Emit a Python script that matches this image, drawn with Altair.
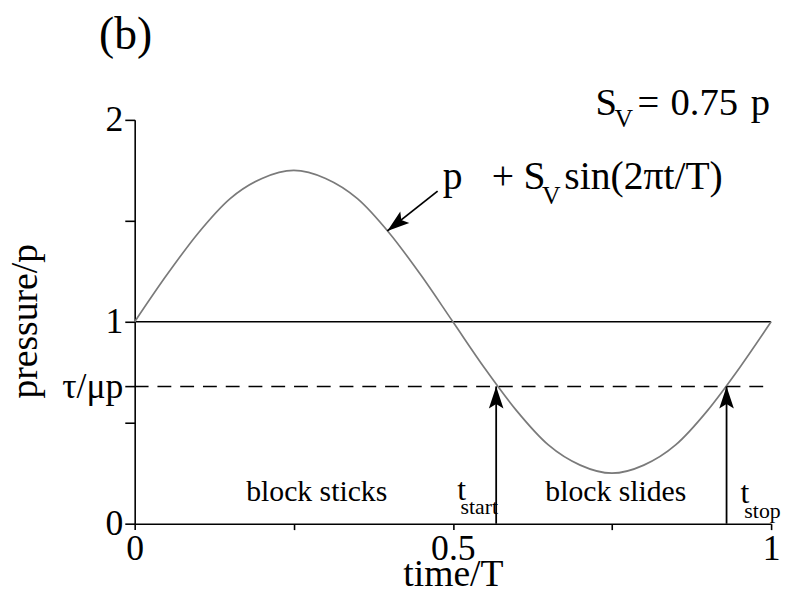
import altair as alt
import pandas as pd

# ---- data ----
t_vals = [0.0, 0.05, 0.1, 0.15, 0.2, 0.25, 0.3, 0.35, 0.4, 0.45, 0.5,
          0.55, 0.6, 0.65, 0.7, 0.75, 0.8, 0.85, 0.9, 0.95, 1.0]
p_vals = [1.0, 1.23, 1.44, 1.61, 1.71, 1.75, 1.71, 1.61, 1.44, 1.23, 1.0,
          0.77, 0.56, 0.39, 0.29, 0.25, 0.29, 0.39, 0.56, 0.77, 1.0]
x_ticks = [0, 0.25, 0.5, 0.75, 1]
y_ticks = [0, 0.5, 0.68, 1, 1.5, 2]
mean_level = 1.0
tau_level = 0.68
t_start = 0.568
t_stop = 0.93
# pointer arrow (from label towards curve)
ptr_from = (0.476, 1.647)
ptr_to = (0.397, 1.45)
ptr_angle = 232

# annotation texts (left-aligned)
ann_text = ["(b)",
            "S", "V", "=", "0.75", "p",
            "p", "+", "S", "V", "sin(2\u03c0t/T)",
            "t", "start", "t", "stop"]
ann_x = [-0.056,
         0.724, 0.754, 0.79, 0.842, 0.968,
         0.484, 0.561, 0.611, 0.640, 0.675,
         0.507, 0.512, 0.952, 0.958]
ann_y = [2.35,
         2.025, 1.965, 2.025, 2.025, 2.025,
         1.657, 1.657, 1.657, 1.585, 1.657,
         0.118, 0.048, 0.103, 0.028]
ann_size = [46,
            39, 26, 39, 39, 39,
            40, 40, 40, 26, 40,
            32, 22, 32, 22]

# region labels (centred)
region_text = ["block sticks", "block slides"]
region_x = [0.286, 0.756]
region_y = [0.11, 0.11]

FONT = "'Liberation Serif', 'Times New Roman', serif"

xs = alt.Scale(domain=[0, 1], nice=False, zero=False)
ys = alt.Scale(domain=[0, 2], nice=False, zero=False)

curve_df = pd.DataFrame({"t": t_vals, "p": p_vals})

curve = alt.Chart(curve_df).mark_line(
    color="#7a7a7a", strokeWidth=1.7, interpolate="monotone"
).encode(
    x=alt.X("t:Q", scale=xs, axis=alt.Axis(
        values=x_ticks,
        labelExpr="datum.value == 0 ? '0' : datum.value == 0.5 ? '0.5' : datum.value == 1 ? '1' : ''",
        title="time/T", titleY=62, titleBaseline="alphabetic",
        tickSize=6, labelPadding=2, labelFlush=False, labelOverlap=False,
        labelFontSize=36, titleFontSize=38)),
    y=alt.Y("p:Q", scale=ys, axis=alt.Axis(
        values=y_ticks,
        labelExpr="datum.value == 0 ? '0' : datum.value == 1 ? '1' : datum.value == 2 ? '2' : abs(datum.value - 0.68) < 0.001 ? '\u03c4/\u03bcp' : ''",
        title="pressure/p", titleX=-99, titleY=203, titleAngle=270,
        titleAlign="center", titleBaseline="alphabetic",
        tickSize=10, labelPadding=2, labelOverlap=False,
        labelFontSize=36, titleFontSize=38)),
)

hl_df = pd.DataFrame({"x": [0.0], "x2": [1.0], "y": [mean_level]})
hline = alt.Chart(hl_df).mark_rule(color="black", strokeWidth=1.6).encode(
    x=alt.X("x:Q", scale=xs), x2="x2:Q", y=alt.Y("y:Q", scale=ys))

dl_df = pd.DataFrame({"x": [0.0], "x2": [1.0], "y": [tau_level]})
dline = alt.Chart(dl_df).mark_rule(color="black", strokeWidth=1.5,
                                   strokeDash=[14, 9]).encode(
    x=alt.X("x:Q", scale=xs), x2="x2:Q", y=alt.Y("y:Q", scale=ys))

arr_df = pd.DataFrame({
    "x": [t_start, t_stop, ptr_from[0]],
    "x2": [t_start, t_stop, ptr_to[0]],
    "y": [0.0, 0.0, ptr_from[1]],
    "y2": [tau_level, tau_level, ptr_to[1]],
})
arrows = alt.Chart(arr_df).mark_rule(color="black", strokeWidth=1.8).encode(
    x=alt.X("x:Q", scale=xs), x2="x2:Q",
    y=alt.Y("y:Q", scale=ys), y2="y2:Q")

head_df = pd.DataFrame({
    "x": [t_start, t_stop, ptr_to[0]],
    "y": [tau_level, tau_level, ptr_to[1]],
    "ang": [0, 0, ptr_angle],
})
heads = alt.Chart(head_df).mark_point(
    shape="M0,0L0.33,1L0,0.8L-0.33,1Z", filled=True, color="black",
    opacity=1, size=2000, strokeWidth=0
).encode(
    x=alt.X("x:Q", scale=xs), y=alt.Y("y:Q", scale=ys),
    angle=alt.Angle("ang:Q", scale=None))

ann_df = pd.DataFrame({"x": ann_x, "y": ann_y, "text": ann_text,
                       "fs": ann_size})
ann = alt.Chart(ann_df).mark_text(
    font=FONT, align="left", baseline="alphabetic", color="black"
).encode(x=alt.X("x:Q", scale=xs), y=alt.Y("y:Q", scale=ys),
         text="text:N", size=alt.Size("fs:Q", scale=None))

reg_df = pd.DataFrame({"x": region_x, "y": region_y, "text": region_text})
regions = alt.Chart(reg_df).mark_text(
    font=FONT, align="center", baseline="alphabetic", color="black",
    fontSize=30
).encode(x=alt.X("x:Q", scale=xs), y=alt.Y("y:Q", scale=ys), text="text:N")

chart = alt.layer(dline, hline, curve, arrows, heads, ann, regions).properties(
    width=643, height=408,
    autosize=alt.AutoSizeParams(type="none"),
    padding={"left": 128, "top": 110, "right": 10, "bottom": 66},
).configure_view(stroke=None).configure_axis(
    grid=False, domainColor="black", tickColor="black", domainWidth=1.6,
    tickWidth=1.6, labelColor="black", titleColor="black",
    labelFont=FONT, titleFont=FONT, titleFontWeight="normal",
)

chart.save("out.html", embed_options={"renderer": "svg", "actions": False})
